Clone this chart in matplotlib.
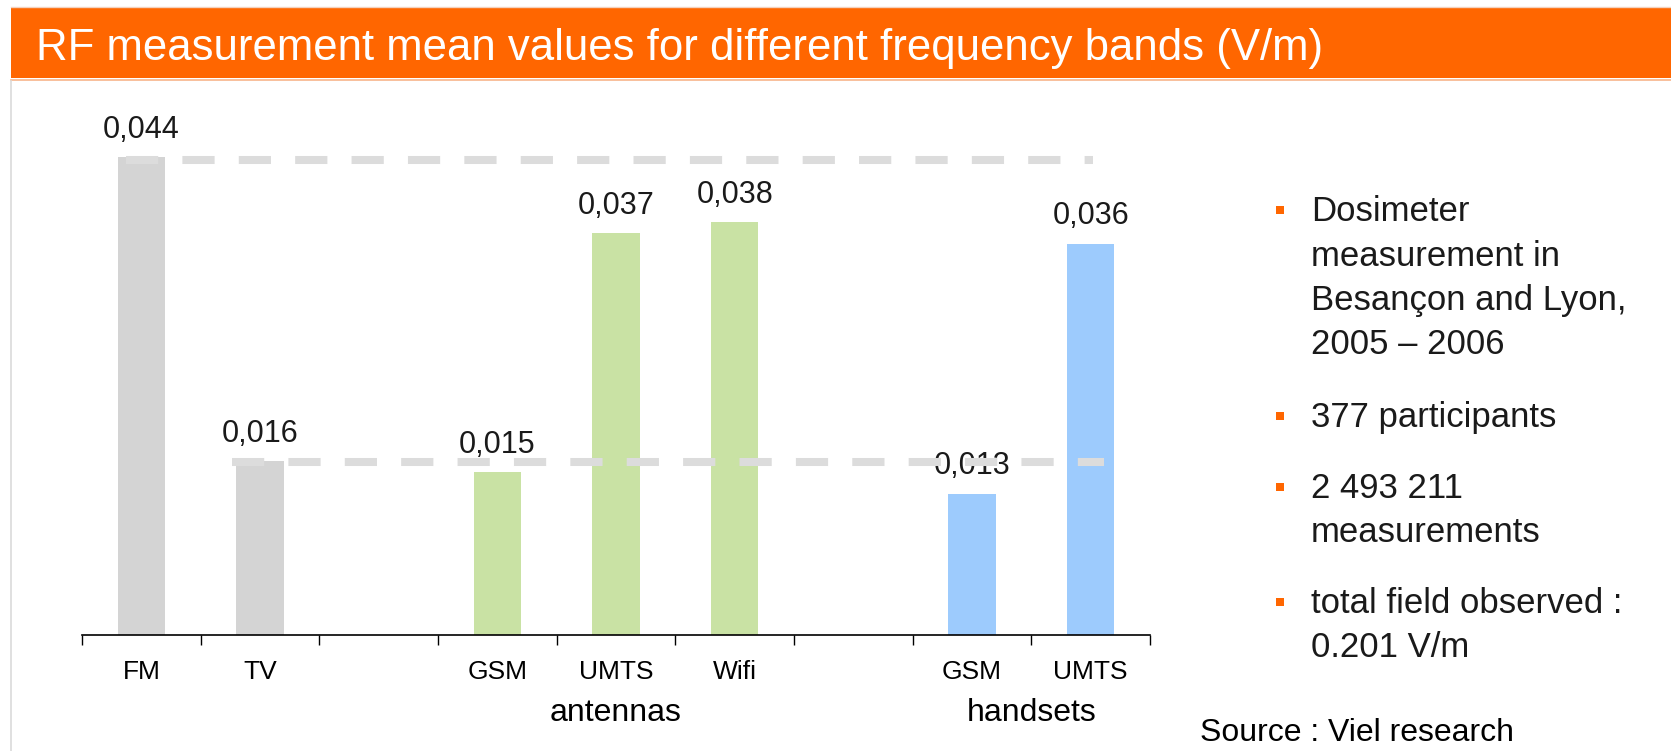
import matplotlib
matplotlib.use("Agg")
import matplotlib.pyplot as plt
from matplotlib.patches import Rectangle
from matplotlib.lines import Line2D

plt.rcParams['font.family'] = ['Liberation Sans', 'DejaVu Sans']

# data
categories = ["FM", "TV", "", "GSM", "UMTS", "Wifi", "", "GSM", "UMTS"]
values = [0.044, 0.016, None, 0.015, 0.037, 0.038, None, 0.013, 0.036]
labels = ["0,044", "0,016", "", "0,015", "0,037", "0,038", "", "0,013", "0,036"]
colors = ["#d4d4d4", "#d4d4d4", None, "#c9e2a4", "#c9e2a4", "#c9e2a4", None, "#9dcbfd", "#9dcbfd"]
groups = ["antennas", "handsets"]
group_pos = [4, 7.5]
ref_levels = [0.0437, 0.0159]
ref_spans = [(-0.13, 8.02), (0.76, 8.11)]

title = "RF measurement mean values for different frequency bands (V/m)"
bullets = [
    ["Dosimeter", "measurement in", "Besançon and Lyon,", "2005 – 2006"],
    ["377 participants"],
    ["2 493 211", "measurements"],
    ["total field observed :", "0.201 V/m"],
]
source = "Source : Viel research"

W, H = 1671, 751
fig = plt.figure(figsize=(W / 100, H / 100), dpi=100)

def fx(px):
    return px / W

def fy(py):
    return 1 - py / H

# header band
fig.patches.append(Rectangle((fx(11), fy(78)), 1 - fx(11), 71 / H, transform=fig.transFigure,
                             facecolor="#ff6600", edgecolor="none"))
fig.lines.append(Line2D([fx(11), 1], [fy(6.5), fy(6.5)], transform=fig.transFigure, color="#f3d2bf", lw=1))
fig.lines.append(Line2D([fx(11), 1], [fy(80), fy(80)], transform=fig.transFigure, color="#f7b48a", lw=1.2))
fig.lines.append(Line2D([fx(11), fx(11)], [fy(81), 0], transform=fig.transFigure, color="#dadada", lw=1.2))
fig.text(fx(36), fy(60), title, color="white", fontsize=31.5, va="baseline", ha="left")

ax = fig.add_axes([fx(82), fy(635), fx(1150) - fx(82), 543.2 / H])
x = list(range(len(categories)))
for i, v in enumerate(values):
    if v is None:
        continue
    ax.bar(i, v, width=0.4, color=colors[i], zorder=2)
    ax.annotate(labels[i], (i, v), xytext=(0, 14), textcoords="offset points",
                ha="center", va="baseline", fontsize=22, color="#1a1a1a", zorder=3)

for lvl, (x0, x1) in zip(ref_levels, ref_spans):
    ax.plot([x0, x1], [lvl, lvl], color="#dcdcdc", lw=5.8, dashes=(4, 3),
            solid_capstyle="butt", dash_capstyle="butt", zorder=5, clip_on=False)

ax.set_xlim(-0.5, len(categories) - 0.5)
ax.set_ylim(0, 0.05)
for s in ["top", "right", "left"]:
    ax.spines[s].set_visible(False)
ax.spines["bottom"].set_linewidth(1.2)
ax.set_yticks([])
ax.set_xticks([i - 0.5 for i in range(len(categories) + 1)])
ax.set_xticklabels([])
ax.tick_params(axis="x", which="major", length=7, width=1, direction="out")
ax.set_xticks(x, minor=True)
ax.set_xticklabels(categories, minor=True, fontsize=19)
ax.tick_params(axis="x", which="minor", length=0, pad=18)

for g, gx in zip(groups, group_pos):
    ax.text(gx, -86 / 543.2, g, transform=ax.get_xaxis_transform(), ha="center",
            va="baseline", fontsize=23)

# right side notes
baselines = [[221, 266, 310, 354], [427], [498, 542], [613, 657]]
for lines, ys in zip(bullets, baselines):
    fig.patches.append(Rectangle((fx(1276), fy(ys[0] - 7)), 8 / W, 8 / H, transform=fig.transFigure,
                                 facecolor="#ff6600", edgecolor="none"))
    for line, yb in zip(lines, ys):
        fig.text(fx(1311), fy(yb), line, fontsize=25, color="#1a1a1a", va="baseline", ha="left")
fig.text(fx(1200), fy(741), source, fontsize=23, color="black", va="baseline", ha="left")

fig.savefig("out.png", dpi=100)
